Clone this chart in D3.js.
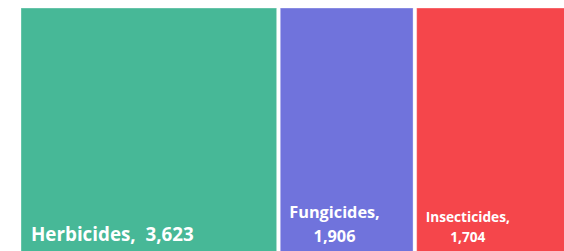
<!DOCTYPE html>
<html>
<head>
<meta charset="utf-8">
<script src="https://cdn.jsdelivr.net/npm/d3@7"></script>
<style>
  body { margin: 0; background: #fff; }
  text { font-family: "Open Sans", "Noto Sans", sans-serif; font-weight: 700; fill: #fff; white-space: pre; }
</style>
</head>
<body>
<div id="chart"></div>
<script>
// Pesticide totals (treemap)
var categories = ["Herbicides", "Fungicides", "Insecticides"];
var values = [3623, 1906, 1704];

var colors = ["#47b897", "#7073dc", "#f5464b"];
var fontSizes = [18.8, 16.3, 13.7];

var svgWidth = 564;
var svgHeight = 251;

var margin = { top: 8, left: 21 };

var svg = d3.select("#chart")
  .append("svg")
  .attr("width", svgWidth)
  .attr("height", svgHeight);

var data = categories.map((c, i) => ({ name: c, value: values[i], color: colors[i], size: fontSizes[i] }));

var root = d3.hierarchy({ children: data })
  .sum(d => d.value || 0);

// laid out as one row of columns; the chart is cropped on the right and at the bottom
d3.treemap()
  .tile(d3.treemapDice)
  .size([514, 250])
  .paddingInner(3.6)
  (root);

var leaves = root.leaves();
// last cell runs past the right edge of the view
leaves[leaves.length - 1].x1 = svgWidth;

var fmt = d3.format(",");

var cell = svg.append("g")
  .attr("transform", `translate(${margin.left}, ${margin.top})`)
  .selectAll("g")
  .data(leaves)
  .join("g")
  .attr("transform", d => `translate(${d.x0}, ${d.y0})`);

cell.append("rect")
  .attr("width", d => d.x1 - d.x0)
  .attr("height", d => d.y1 - d.y0)
  .attr("fill", d => d.data.color)
  .attr("stroke", "#fff")
  .attr("stroke-opacity", 0.35)
  .attr("stroke-width", 1);

// labels sit at the bottom left of each cell; narrow cells wrap to two lines
cell.each(function(d) {
  var g = d3.select(this);
  var h = d.y1 - d.y0;
  var w = d.x1 - d.x0;
  var size = d.data.size;
  if (w > 200) {
    g.append("text")
      .attr("x", 10)
      .attr("y", h - 17)
      .attr("font-size", size + "px")
      .text(`${d.data.name},  ${fmt(d.data.value)}`);
    return;
  }
  var lines = [d.data.name + ",", fmt(d.data.value)];
  var tmp = g.append("text").attr("font-size", size + "px").text(lines[0]);
  var bw = tmp.node().getComputedTextLength();
  tmp.remove();
  var lh = size * 1.45;
  g.append("text")
    .attr("font-size", size + "px")
    .attr("text-anchor", "middle")
    .selectAll("tspan")
    .data(lines)
    .join("tspan")
    .attr("x", 9 + bw / 2)
    .attr("y", (l, i) => h - 16 - (lines.length - 1 - i) * lh)
    .text(l => l);
});
</script>
</body>
</html>
